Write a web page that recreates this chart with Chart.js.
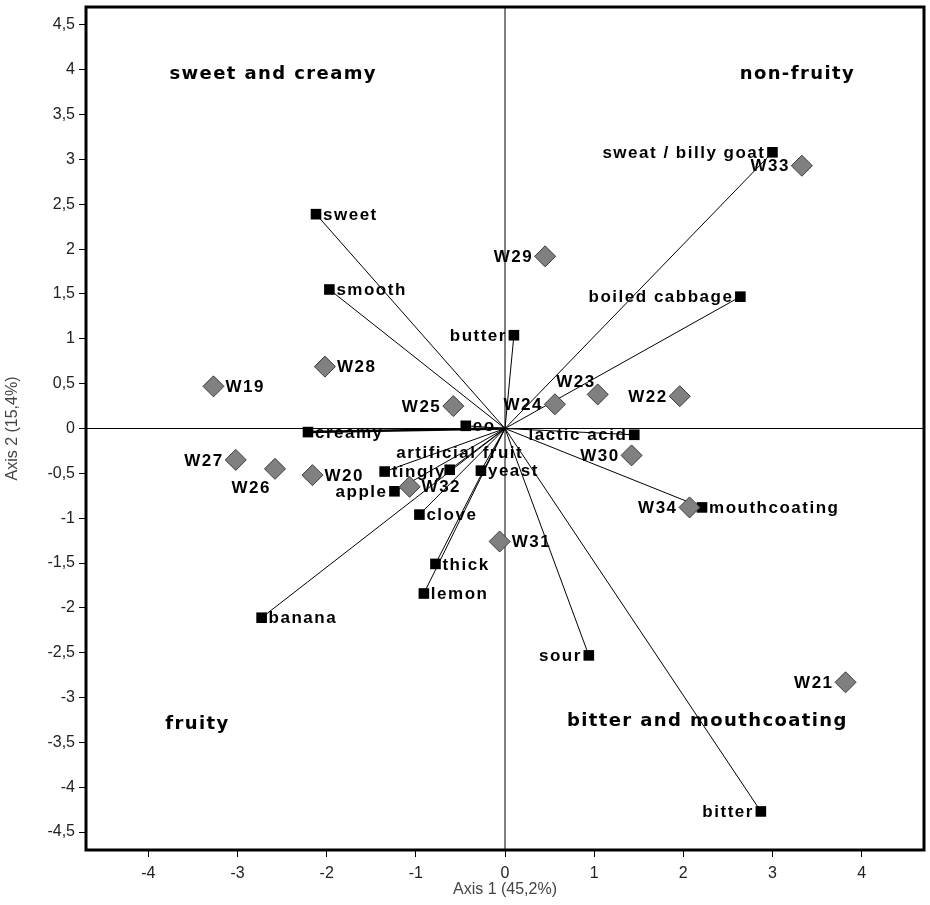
<!DOCTYPE html>
<html>
<head>
<meta charset="utf-8">
<script src="https://cdn.jsdelivr.net/npm/chart.js@4.4.0/dist/chart.umd.min.js"></script>
<style>
  html, body { margin: 0; padding: 0; background: #fff; }
  #wrap { width: 930px; height: 905px; }
</style>
</head>
<body>
<div id="wrap"><canvas id="c" width="930" height="905"></canvas></div>
<script>
// attributes (vectors from the origin)
const attrNames = ["sweat / billy goat", "sweet", "smooth", "boiled cabbage", "butter", "creamy",
  "lactic acid", "eo", "artificial fruit", "tingly", "yeast", "apple", "clove", "thick", "lemon",
  "banana", "sour", "bitter", "mouthcoating"];
const attrX = [3.00, -2.12, -1.97, 2.64, 0.10, -2.21, 1.45, -0.44, -0.62, -1.35, -0.27, -1.24, -0.96, -0.78, -0.91, -2.73, 0.94, 2.87, 2.21];
const attrY = [3.08, 2.39, 1.55, 1.47, 1.04, -0.04, -0.07, 0.03, -0.46, -0.48, -0.47, -0.70, -0.96, -1.51, -1.84, -2.11, -2.53, -4.27, -0.88];

// samples
const sampleNames = ["W33", "W29", "W28", "W19", "W23", "W22", "W24", "W25", "W30", "W27", "W26", "W20", "W32", "W34", "W31", "W21"];
const sampleX = [3.33, 0.45, -2.02, -3.27, 1.04, 1.96, 0.56, -0.58, 1.42, -3.02, -2.58, -2.16, -1.07, 2.07, -0.06, 3.82];
const sampleY = [2.93, 1.92, 0.69, 0.47, 0.38, 0.36, 0.27, 0.25, -0.30, -0.35, -0.45, -0.52, -0.65, -0.88, -1.26, -2.83];

// quadrant captions
const quadNames = ["sweet and creamy", "non-fruity", "fruity", "bitter and mouthcoating"];
const quadX = [-2.6, 3.28, -3.45, 2.27];
const quadY = [3.95, 3.95, -3.3, -3.26];

const xTicks = [-4, -3, -2, -1, 0, 1, 2, 3, 4];
const yTicks = [-4.5, -4, -3.5, -3, -2.5, -2, -1.5, -1, -0.5, 0, 0.5, 1, 1.5, 2, 2.5, 3, 3.5, 4, 4.5];

// where each label sits relative to its marker
const attrSide = {
  "sweat / billy goat": "l", "boiled cabbage": "l", "butter": "l", "lactic acid": "l",
  "apple": "l", "sour": "l", "bitter": "l", "artificial fruit": "t"
};
const sampleSide = {
  "W28": "r", "W19": "r", "W20": "r", "W32": "r", "W31": "r", "W23": "tl", "W26": "bl"
};

const vectorSets = attrNames.map((n, i) => ({
  type: 'line',
  data: [{ x: 0, y: 0 }, { x: attrX[i], y: attrY[i] }],
  borderColor: '#000',
  borderWidth: n === 'creamy' ? 2.5 : 1,
  pointRadius: 0,
  fill: false,
  order: 3
}));

const frameAndText = {
  id: 'frameAndText',
  beforeDatasetsDraw(chart) {
    const { ctx, chartArea: a, scales } = chart;
    const x0 = scales.x.getPixelForValue(0), y0 = scales.y.getPixelForValue(0);
    ctx.save();
    ctx.strokeStyle = '#000';
    ctx.lineWidth = 1;
    ctx.beginPath();
    ctx.moveTo(x0, a.top); ctx.lineTo(x0, a.bottom);
    ctx.moveTo(a.left, y0); ctx.lineTo(a.right, y0);
    ctx.stroke();
    ctx.fillStyle = '#000';
    ctx.font = 'bold 18px "DejaVu Sans"';
    ctx.letterSpacing = '1.4px';
    ctx.textAlign = 'center';
    ctx.textBaseline = 'middle';
    quadNames.forEach((t, i) => {
      ctx.fillText(t, scales.x.getPixelForValue(quadX[i]), scales.y.getPixelForValue(quadY[i]));
    });
    ctx.restore();
  },
  afterDatasetsDraw(chart) {
    const { ctx, chartArea: a } = chart;
    ctx.save();
    ctx.fillStyle = '#000';
    ctx.font = 'bold 17px "Liberation Sans", Arial';
    ctx.letterSpacing = '1.5px';
    ctx.textBaseline = 'middle';
    const put = (el, txt, side, half) => {
      const g = half + 2;
      let x = el.x, y = el.y;
      if (side === 'l') { ctx.textAlign = 'right'; x -= g; }
      else if (side === 't') { ctx.textAlign = 'center'; x += 10; y -= 17; }
      else if (side === 'tl') { ctx.textAlign = 'right'; x -= 2; y -= 13; }
      else if (side === 'bl') { ctx.textAlign = 'right'; x -= 4; y += 18; }
      else { ctx.textAlign = 'left'; x += g; }
      ctx.fillText(txt, x, y + 1);
    };
    const attrMeta = chart.getDatasetMeta(chart.data.datasets.length - 2);
    attrMeta.data.forEach((el, i) => put(el, attrNames[i], attrSide[attrNames[i]] || 'r', 5));
    const smpMeta = chart.getDatasetMeta(chart.data.datasets.length - 1);
    smpMeta.data.forEach((el, i) => put(el, sampleNames[i], sampleSide[sampleNames[i]] || 'l', 10));
    ctx.strokeStyle = '#000';
    ctx.lineWidth = 3;
    ctx.strokeRect(a.left, a.top, a.right - a.left, a.bottom - a.top);
    ctx.restore();
  }
};

const fmt = v => String(v).replace('.', ',');

new Chart(document.getElementById('c'), {
  type: 'scatter',
  data: {
    datasets: [
      ...vectorSets,
      {
        data: attrX.map((x, i) => ({ x, y: attrY[i] })),
        pointStyle: 'rect',
        pointRadius: 7.5,
        backgroundColor: '#000',
        borderColor: '#000',
        borderWidth: 0,
        order: 2
      },
      {
        data: sampleX.map((x, i) => ({ x, y: sampleY[i] })),
        pointStyle: 'rectRot',
        pointRadius: 10.5,
        backgroundColor: '#808080',
        borderColor: '#3a3a3a',
        borderWidth: 1,
        order: 1
      }
    ]
  },
  options: {
    responsive: false,
    animation: false,
    devicePixelRatio: 1,
    layout: { autoPadding: false, padding: { left: 0, right: 6, top: 7, bottom: 0 } },
    plugins: { legend: { display: false }, tooltip: { enabled: false } },
    scales: {
      x: {
        type: 'linear', min: -4.7, max: 4.7,
        afterBuildTicks: s => { s.ticks = xTicks.map(v => ({ value: v })); },
        afterFit: s => { s.height = 55; s.paddingLeft = 0; s.paddingRight = 0; },
        grid: { drawOnChartArea: false, drawTicks: true, tickLength: 7, color: '#000' },
        border: { display: false },
        ticks: { color: '#222', font: { family: '"Liberation Sans", Arial', size: 16 }, padding: 7, callback: fmt },
        title: { display: true, text: 'Axis 1 (45,2%)', color: '#444', font: { family: '"Liberation Sans", Arial', size: 16 }, padding: { top: 0, bottom: 6 } }
      },
      y: {
        type: 'linear', min: -4.7, max: 4.7,
        afterBuildTicks: s => { s.ticks = yTicks.map(v => ({ value: v })); },
        afterFit: s => { s.width = 86; s.paddingTop = 0; s.paddingBottom = 0; },
        grid: { drawOnChartArea: false, drawTicks: true, tickLength: 7, color: '#000' },
        border: { display: false },
        ticks: { color: '#222', font: { family: '"Liberation Sans", Arial', size: 16 }, padding: 4, callback: fmt },
        title: { display: true, text: 'Axis 2 (15,4%)', color: '#444', font: { family: '"Liberation Sans", Arial', size: 16 }, padding: { top: 3, bottom: 0 } }
      }
    }
  },
  plugins: [frameAndText]
});
</script>
</body>
</html>
